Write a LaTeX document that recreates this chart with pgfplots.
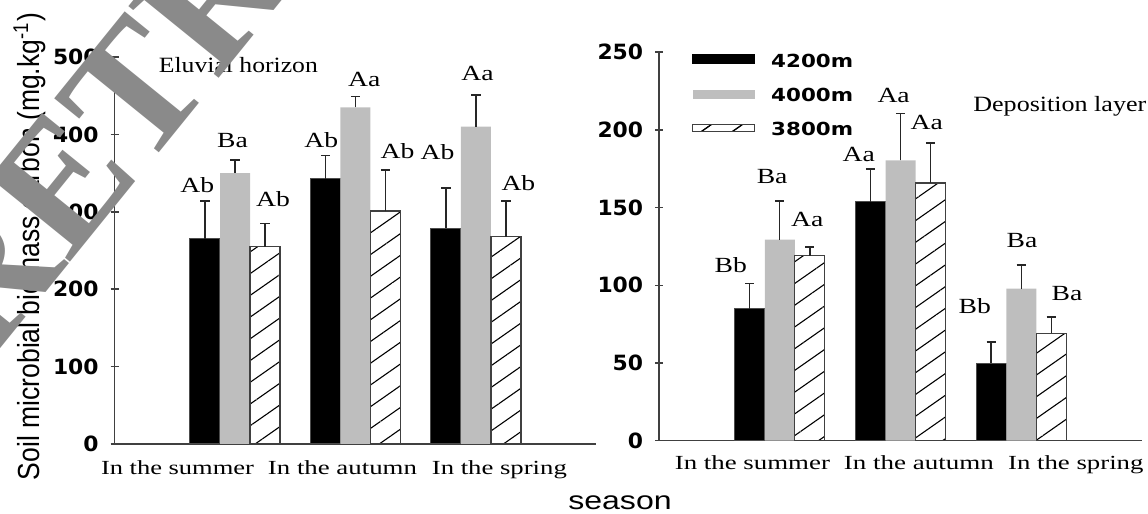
\documentclass[border=0pt]{standalone}
\usepackage{pgfplots}
\pgfplotsset{compat=1.18}
\usepackage{pgfplotstable}
\usepackage{graphicx}
\usepackage{fontspec}
\usetikzlibrary{patterns.meta}
\setmainfont{Liberation Serif}
\newfontfamily\dv{DejaVu Sans}
\newfontfamily\dvb{DejaVu Sans Bold}
\newfontfamily\ls{Liberation Sans}
\definecolor{barg}{HTML}{BEBEBE}
\definecolor{wm}{HTML}{8A8A8A}
\definecolor{axc}{HTML}{404040}

% left panel: eluvial horizon
\pgfplotstableread{
x y e
0 265 49
1 343 30
2 279 52
}\Lblack
\pgfplotstableread{
x y e
0 350 17
1 435 14
2 410 41
}\Lgray
\pgfplotstableread{
x y e
0 255 30
1 301 53
2 268 46
}\Lhatch
% right panel: deposition layer
\pgfplotstableread{
x y e
0 84.8 16.5
1 153.7 21.3
2 49.8 13.6
}\Rblack
\pgfplotstableread{
x y e
0 129.4 24.8
1 180.5 30.1
2 97.9 15.2
}\Rgray
\pgfplotstableread{
x y e
0 119.1 5.6
1 165.9 25.6
2 69.2 10.4
}\Rhatch

\newcommand\lab[3]{\node[anchor=base, inner sep=0pt, font=\fontsize{10.8}{12}\selectfont] at (axis cs:#1,#2) {\scalebox{1.28}[1]{#3}};}
\newcommand\cat[4]{\node[anchor=base, inner sep=0pt] at (axis cs:#1,#2) {\resizebox{#3}{\height}{\fontsize{10}{12}\selectfont #4}};}

\pgfplotsset{
  panel/.style={
    scale only axis, clip=false,
    xmin=-1, xmax=3, ymin=0,
    axis x line=bottom, axis y line=left,
    axis line style={-, axc, line width=0.8pt},
    xtick=\empty,
    tick align=center, major tick length=4pt,
    ytick style={axc, line width=0.8pt},
    /pgf/number format/assume math mode=true,
    yticklabel={\scalebox{1.04}[1]{\pgfmathprintnumber{\tick}}},
    yticklabel style={font=\dvb\fontsize{10.5}{11}\selectfont, anchor=east, inner sep=0pt, xshift=-5.75pt},
    error bars/y dir=plus, error bars/y explicit,
    error bars/error bar style={black!85, line width=0.7pt},
    error bars/error mark options={rotate=90, black!85, line width=0.7pt, mark size=2.3pt},
  },
  blk/.style={ybar, bar width=15pt, bar shift=0pt, fill=black, draw=black!70, line width=0.5pt},
  gry/.style={ybar, bar width=15pt, bar shift=0pt, fill=barg, draw=none},
  htc/.style={ybar, bar width=15pt, bar shift=0pt, fill=white, draw=black!75, line width=0.6pt,
    postaction={pattern={Lines[angle=35, distance=8.9pt, line width=0.55pt]}, pattern color=black}},
}

\begin{document}
\begin{tikzpicture}
\path[use as bounding box] (0,0) rectangle (574pt,257pt);

% ---------- left panel ----------
\begin{axis}[panel, at={(57.25pt,35pt)}, anchor=south west,
  width=241pt, height=193.5pt, ymax=500, ytick={0,100,...,500}]
\addplot[blk] table[x expr=\thisrow{x}-0.249, y=y, y error=e]{\Lblack};
\addplot[gry] table[x=x, y=y, y error=e]{\Lgray};
\addplot[htc] table[x expr=\thisrow{x}+0.249, y=y, y error=e]{\Lhatch};
\lab{-0.313}{325}{Ab}
\lab{-0.021}{383}{Ba}
\lab{0.315}{307}{Ab}
\lab{0.716}{383}{Ab}
\lab{1.072}{462}{Aa}
\lab{1.348}{369}{Ab}
\lab{1.680}{367}{Ab}
\lab{2.012}{470}{Aa}
\lab{2.352}{327.5}{Ab}
\cat{-0.477}{-40}{76.5pt}{In the summer}
\cat{0.892}{-40}{74.5pt}{In the autumn}
\cat{2.194}{-40}{67.5pt}{In the spring}
\node[anchor=base west, inner sep=0pt] at (axis cs:-0.635,479.7) {\resizebox{79.5pt}{\height}{\fontsize{10.9}{12}\selectfont Eluvial horizon}};
\end{axis}

% ---------- right panel ----------
\begin{axis}[panel, at={(329.5pt,36.65pt)}, anchor=south west,
  width=241.5pt, height=194.2pt, ymax=250, ytick={0,50,...,250},
  legend cell align=left,
  legend style={at={(rel axis cs:0.0683,0.9959)}, anchor=north west, draw=none, fill=none,
    inner sep=0pt, outer sep=0pt, row sep=8.75pt, column sep=0pt,
    nodes={inner sep=0pt, font=\dvb\fontsize{9}{10}\selectfont}}]
\addplot[blk, legend image code/.code={\fill[black] (0pt,-0.5pt) rectangle (31pt,3.7pt); \path (39pt,-3.6pt) (0pt,3.9pt);}] table[x expr=\thisrow{x}-0.249, y=y, y error=e]{\Rblack};
\addlegendentry{\scalebox{1.19}[1]{4200m}}
\addplot[gry, legend image code/.code={\fill[barg] (0pt,-1.5pt) rectangle (31pt,3pt); \path (39pt,-3.6pt) (0pt,3.9pt);}] table[x=x, y=y, y error=e]{\Rgray};
\addlegendentry{\scalebox{1.19}[1]{4000m}}
\addplot[htc, legend image code/.code={\draw[black!75, fill=white, line width=0.6pt, postaction={pattern={Lines[angle=35, distance=8.9pt, line width=0.55pt]}, pattern color=black}] (0pt,-0.8pt) rectangle (31pt,3pt); \path (39pt,-3.6pt) (0pt,3.9pt);}] table[x expr=\thisrow{x}+0.249, y=y, y error=e]{\Rhatch};
\addlegendentry{\scalebox{1.19}[1]{3800m}}
\lab{-0.405}{108.5}{Bb}
\lab{-0.063}{165.3}{Ba}
\lab{0.228}{137.9}{Aa}
\lab{0.654}{179.7}{Aa}
\lab{0.943}{217.4}{Aa}
\lab{1.217}{200.3}{Aa}
\lab{1.615}{82.1}{Bb}
\lab{2.006}{124.1}{Ba}
\lab{2.379}{90.2}{Ba}
\cat{-0.226}{-18.4}{77.5pt}{In the summer}
\cat{1.153}{-18.4}{75pt}{In the autumn}
\cat{2.452}{-18.4}{67.7pt}{In the spring}
\node[anchor=base west, inner sep=0pt] at (axis cs:1.600,211.8) {\resizebox{86.5pt}{\height}{\fontsize{10.9}{12}\selectfont Deposition layer}};
\end{axis}

% axis titles
\node[rotate=90, anchor=center, inner sep=0pt] at (14.75pt,133.75pt) {\scalebox{1}[1.15]{\resizebox{233.5pt}{!}{\ls Soil microbial biomass carbon (mg.kg\textsuperscript{-1})}}};
\node[anchor=base, inner sep=0pt] at (310pt,2pt) {\resizebox{51.7pt}{\height}{\ls\fontsize{12.8}{14}\selectfont season}};

% retraction stamp
\node[rotate=51, anchor=base west, inner sep=0pt, text=wm, font=\fontsize{88}{88}\selectfont\bfseries] at (-5.75pt,75.3pt) {RETRACTED};
\end{tikzpicture}
\end{document}
